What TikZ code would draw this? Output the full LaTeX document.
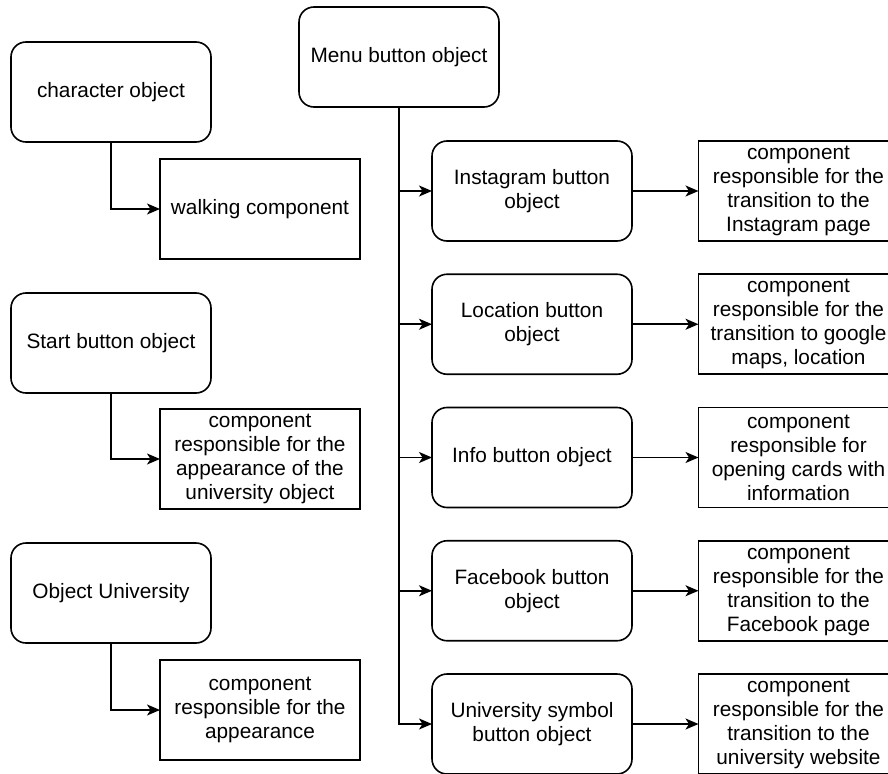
\documentclass[tikz,border=0pt]{standalone}
\usepackage{fontspec}
\setmainfont{Liberation Sans}
\usetikzlibrary{arrows.meta,positioning}
\tikzset{
	%Define standard arrow tip
	>={Stealth[length=13pt,width=11pt,inset=3.5pt]},
	%Define style for object boxes
	objbox/.style={
		rectangle,
		rounded corners=15pt,
		draw=black, line width=1.6pt,
		minimum width=200pt,
		minimum height=100pt,
		inner sep=0pt, outer sep=0pt,
		align=center,
		font=\fontsize{20.8pt}{24pt}\selectfont},
	% Define style for component boxes
	compbox/.style={
		objbox,
		sharp corners},
	% Define arrow style
	link/.style={
		->,
		line width=1.6pt}
}

\begin{document}
\begin{tikzpicture}[x=1pt, y=-1pt]
	\useasboundingbox (0,0) rectangle (888,773);
	
	% left column
	\node[objbox] (character) at (111,92) {character object};
	\node[compbox, below right = 17pt and -51pt of character] (walking) {walking component};
	
	\node[objbox, below = 151pt of character] (start) {Start button object};
	\node[compbox, below right = 16pt and -51pt of start] (start-comp) {component\\ responsible for the\\ appearance of the\\ university object};
	
	\node[objbox, below = 150pt of start] (university) {Object University};
	\node[compbox, below right = 17pt and -51pt of university] (university-comp) {component\\ responsible for the\\ appearance};
	
	% menu with its buttons
	\node[objbox] (menu) at (399,57) {Menu button object};
	
	\node[objbox, below right = 34pt and -67pt of menu] (instagram) {Instagram button\\ object};
	\node[objbox, below = 33.25pt of instagram] (location) {Location button\\ object};
	\node[objbox, below = 33.25pt of location] (info) {Info button object};
	\node[objbox, below = 33.25pt of info] (facebook) {Facebook button\\ object};
	\node[objbox, below = 33.25pt of facebook] (symbol) {University symbol\\ button object};
	
	\node[compbox, right = 66.5pt of instagram] (instagram-comp) {component\\ responsible for the\\ transition to the\\ Instagram page};
	\node[compbox, right = 66.5pt of location] (location-comp) {component\\ responsible for the\\ transition to google\\ maps, location};
	\node[compbox, right = 66.5pt of info] (info-comp) {component\\ responsible for\\ opening cards with\\ information};
	\node[compbox, right = 66.5pt of facebook] (facebook-comp) {component\\ responsible for the\\ transition to the\\ Facebook page};
	\node[compbox, right = 66.5pt of symbol] (symbol-comp) {component\\ responsible for the\\ transition to the\\ university website};
	
	\draw[link] (character.south) |- (walking.west);
	\draw[link] (start.south) |- (start-comp.west);
	\draw[link] (university.south) |- (university-comp.west);
	
	\draw[link] (menu.south) |- (instagram.west);
	\draw[link] (menu.south) |- (location.west);
	\draw[link] (menu.south) |- (info.west);
	\draw[link] (menu.south) |- (facebook.west);
	\draw[link] (menu.south) |- (symbol.west);
	
	\draw[link] (instagram) -- (instagram-comp);
	\draw[link] (location) -- (location-comp);
	\draw[link] (info) -- (info-comp);
	\draw[link] (facebook) -- (facebook-comp);
	\draw[link] (symbol) -- (symbol-comp);
	
\end{tikzpicture}
\end{document}
